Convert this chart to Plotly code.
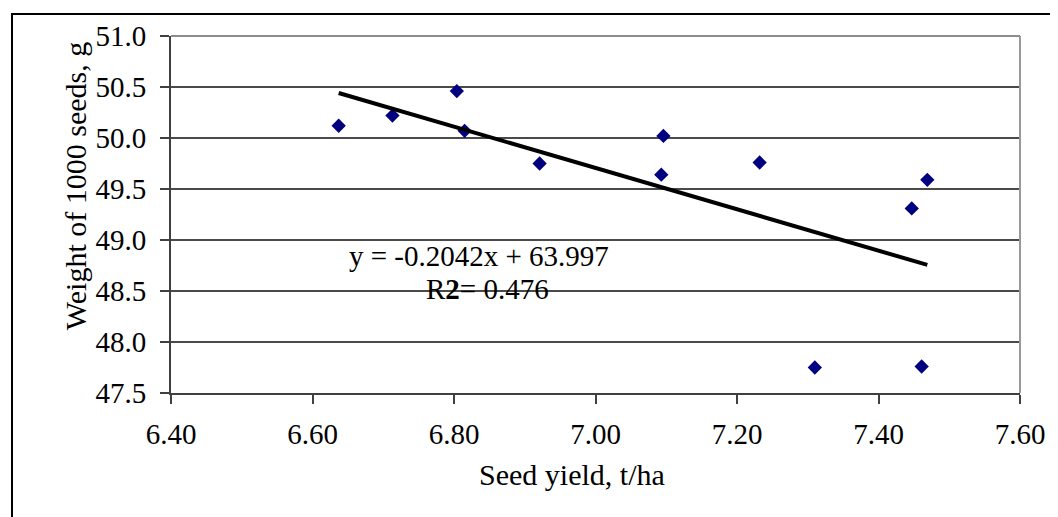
import numpy as np
import plotly.graph_objects as go

# Data
seed_yield = [6.637, 6.713, 6.804, 6.815, 6.921, 7.096, 7.093, 7.232, 7.447, 7.469, 7.310, 7.461]
seed_weight = [50.12, 50.22, 50.46, 50.07, 49.75, 50.02, 49.64, 49.76, 49.31, 49.59, 47.75, 47.76]

x_ticks = [6.40, 6.60, 6.80, 7.00, 7.20, 7.40, 7.60]
y_ticks = [47.5, 48.0, 48.5, 49.0, 49.5, 50.0, 50.5, 51.0]

equation_text = "y = -0.2042x + 63.997"
r2_text = "R<b>2</b>= 0.476"

# linear trendline fitted from the data
slope, intercept = np.polyfit(seed_yield, seed_weight, 1)
tx = [min(seed_yield), max(seed_yield)]
ty = [slope * v + intercept for v in tx]

FONT = "Liberation Serif, Times New Roman, serif"

# page body has an 8px default margin; figure is sized to compensate
W, H = 1050, 509
L, T = 163, 26
PW, PH = 849, 359

fig = go.Figure()
fig.add_trace(go.Scatter(
    x=seed_yield, y=seed_weight, mode="markers",
    marker=dict(symbol="diamond", size=11, color="#000080", line=dict(width=0)),
    showlegend=False, cliponaxis=False))
fig.add_trace(go.Scatter(
    x=tx, y=ty, mode="lines", line=dict(color="black", width=4),
    showlegend=False))

fig.update_layout(
    width=W, height=H,
    margin=dict(l=L, r=W - L - PW, t=T, b=H - T - PH, pad=0),
    paper_bgcolor="white", plot_bgcolor="white",
    font=dict(family=FONT, size=29, color="black"),
    xaxis=dict(range=[6.4, 7.6], tickvals=x_ticks, ticktext=[f"{v:.2f}" for v in x_ticks],
               showgrid=False, zeroline=False,
               showline=True, linecolor="#404040", linewidth=2,
               ticks="outside", ticklen=9, tickwidth=1.5, tickcolor="#404040",
               ticklabelstandoff=5,
               tickfont=dict(size=29), mirror=False),
    yaxis=dict(range=[47.5, 51.0], tickvals=y_ticks, ticktext=[f"{v:.1f}" for v in y_ticks],
               showgrid=True, gridcolor="#4a4a4a", gridwidth=1.5, zeroline=False,
               showline=True, linecolor="#404040", linewidth=2,
               ticks="outside", ticklen=9, tickwidth=1.5, tickcolor="#404040",
               ticklabelstandoff=8,
               tickfont=dict(size=29)),
)

def px(xp):  # page x pixel -> paper x
    return (xp - 8 - L) / PW

def py(yp):  # page y pixel -> paper y
    return (T + PH - (yp - 8)) / PH

# right / top border of plot area (gray)
fig.add_shape(type="line", xref="paper", yref="paper", x0=1, x1=1, y0=0, y1=1,
              line=dict(color="#999999", width=2))
fig.add_shape(type="line", xref="paper", yref="paper", x0=0, x1=1, y0=1, y1=1,
              line=dict(color="#8c8c8c", width=2))

# outer chart frame (cut off at right and bottom)
fig.add_shape(type="rect", xref="paper", yref="paper",
              x0=px(12), x1=px(1080), y0=py(540), y1=py(12),
              line=dict(color="black", width=2), fillcolor="rgba(0,0,0,0)", layer="below")

# axis titles
fig.add_annotation(text="Seed yield, t/ha", xref="paper", yref="paper",
                   x=px(572), y=py(475),
                   xanchor="center", yanchor="middle", showarrow=False,
                   font=dict(size=30))
fig.add_annotation(text="Weight of 1000 seeds, g", xref="paper", yref="paper",
                   x=px(75), y=py(185), textangle=-90,
                   xanchor="center", yanchor="middle", showarrow=False,
                   font=dict(size=30))

# trendline equation
fig.add_annotation(text=equation_text, xref="paper", yref="paper",
                   x=px(479), y=py(255),
                   xanchor="center", yanchor="middle", showarrow=False,
                   font=dict(size=29))
fig.add_annotation(text=r2_text, xref="paper", yref="paper",
                   x=px(487), y=py(288),
                   xanchor="center", yanchor="middle", showarrow=False,
                   font=dict(size=29))

fig.write_html("out.html")
